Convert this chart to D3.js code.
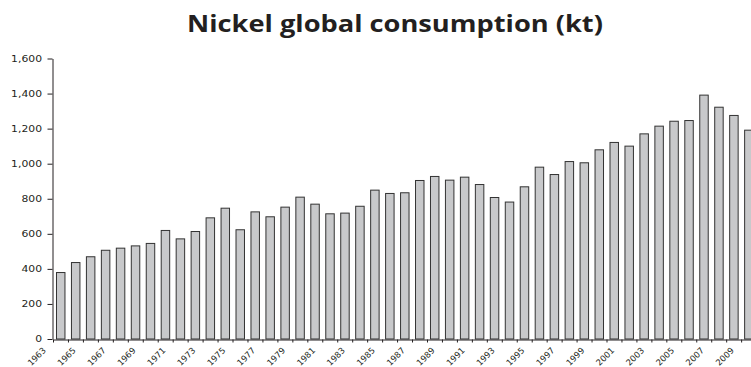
<!DOCTYPE html>
<html>
<head>
<meta charset="utf-8">
<script src="https://cdn.jsdelivr.net/npm/d3@7"></script>
<style>
  body { margin: 0; background: #fff; overflow: hidden; }
  svg { display: block; }
</style>
</head>
<body>
<svg id="chart" width="751" height="367"></svg>
<script>
// Nickel global consumption, kilotonnes per year
const years = [
  1963, 1964, 1965, 1966, 1967, 1968, 1969, 1970, 1971, 1972,
  1973, 1974, 1975, 1976, 1977, 1978, 1979, 1980, 1981, 1982,
  1983, 1984, 1985, 1986, 1987, 1988, 1989, 1990, 1991, 1992,
  1993, 1994, 1995, 1996, 1997, 1998, 1999, 2000, 2001, 2002,
  2003, 2004, 2005, 2006, 2007, 2008, 2009
];
const consumption = [
  382, 439, 472, 509, 521, 534, 548, 622, 574, 616,
  694, 749, 626, 728, 700, 755, 812, 772, 717, 721,
  760, 852, 833, 837, 907, 930, 909, 926, 884, 810,
  784, 871, 983, 941, 1015, 1008, 1082, 1124, 1103, 1173,
  1217, 1245, 1249, 1394, 1325, 1278, 1194
];
const yTicks = [0, 200, 400, 600, 800, 1000, 1200, 1400, 1600];
const xLabelYears = years.filter((d, i) => i % 2 === 0);

const titleText = "Nickel global consumption (kt)";

const svg = d3.select("#chart");
const ink = "#231f20";

const x = d3.scaleBand()
  .domain(years)
  .range([53, 756.1])
  .paddingInner(0.4)
  .paddingOuter(0.2);

const y = d3.scaleLinear()
  .domain([0, 1600])
  .range([339, 58.5]);

// Title, widened slightly to the chart's proportions
const titleG = svg.append("g").attr("transform", "translate(395,32)");
const title = titleG.append("text")
  .text(titleText)
  .attr("text-anchor", "middle")
  .style("font-family", "'Open Sans', 'Noto Sans', sans-serif")
  .style("font-weight", 700)
  .style("font-size", "23px")
  .attr("fill", ink);
const titleW = title.node().getComputedTextLength();
title.attr("transform", `scale(${416 / titleW},1)`);

// Bars
svg.append("g")
  .selectAll("rect")
  .data(years.map((yr, i) => ({ yr, v: consumption[i] })))
  .join("rect")
  .attr("x", d => x(d.yr) + 0.5)
  .attr("width", x.bandwidth() - 0.5)
  .attr("y", d => y(d.v) + 0.5)
  .attr("height", d => y(0) - y(d.v) - 0.5)
  .attr("fill", "#c8c9cb")
  .attr("stroke", "#333")
  .attr("stroke-width", 1);

// Y axis
const yAxis = svg.append("g")
  .attr("transform", "translate(52.5,0)")
  .call(d3.axisLeft(y)
    .tickValues(yTicks)
    .tickSize(5)
    .tickSizeOuter(0)
    .tickFormat(d3.format(",")));
yAxis.select(".domain").attr("stroke", ink);
yAxis.selectAll(".tick line").attr("stroke", ink);
const labelSx = 1.2;
yAxis.selectAll(".tick text")
  .attr("x", -10.5 / labelSx)
  .attr("transform", `scale(${labelSx},1)`)
  .attr("fill", ink)
  .style("font-family", "'DejaVu Sans', Verdana, sans-serif")
  .style("font-size", "9px");

// X axis: ticks at category boundaries
const edges = d3.range(years.length + 1);
const xEdge = d3.scaleLinear()
  .domain([0, years.length])
  .range(x.range());
const xAxis = svg.append("g")
  .attr("transform", `translate(0,${y(0) + 0.5})`)
  .call(d3.axisBottom(xEdge)
    .tickValues(edges)
    .tickSize(3)
    .tickSizeOuter(0)
    .tickFormat(""));
xAxis.select(".domain").attr("stroke", ink);
xAxis.selectAll(".tick line").attr("stroke", ink);

// Slanted year labels, every other year: each label runs along a
// 45-degree guide path that ends just left of its category centre.
const defs = svg.append("defs");
const guideLen = 40;
const labelEnd = d => [x(d) + x.bandwidth() / 2 - 14, 351];
defs.selectAll("path")
  .data(xLabelYears)
  .join("path")
  .attr("id", d => `yr-guide-${d}`)
  .attr("d", d => {
    const [ex, ey] = labelEnd(d);
    const k = guideLen * Math.SQRT1_2;
    return `M${ex - k},${ey + k}L${ex},${ey}`;
  });
svg.append("g")
  .selectAll("text")
  .data(xLabelYears)
  .join("text")
  .attr("fill", ink)
  .style("font-family", "'DejaVu Sans', Verdana, sans-serif")
  .style("font-size", "8.5px")
  .append("textPath")
  .attr("href", d => `#yr-guide-${d}`)
  .attr("startOffset", "100%")
  .attr("text-anchor", "end")
  .text(d => d);
</script>
</body>
</html>
